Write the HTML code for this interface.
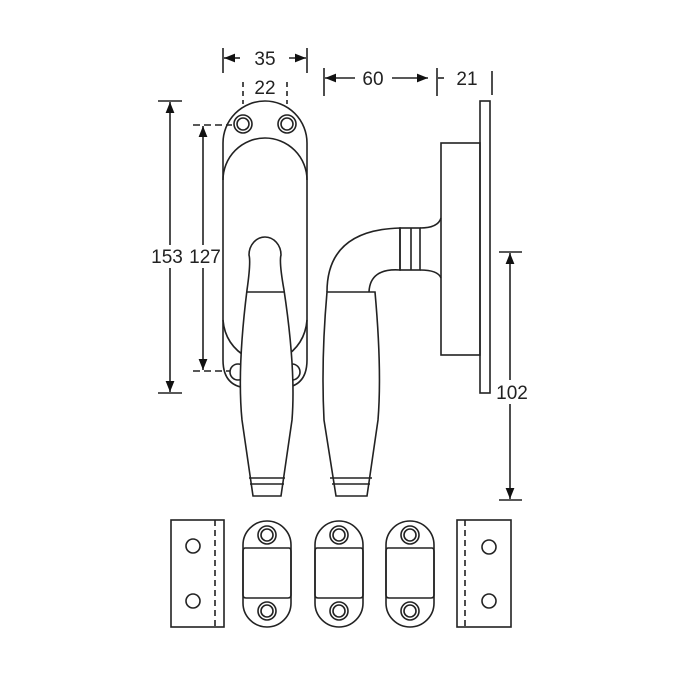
<!DOCTYPE html>
<html><head><style>body{margin:0;background:#fff}svg{display:block}</style></head><body>
<svg width="700" height="700" viewBox="0 0 700 700" xmlns="http://www.w3.org/2000/svg" font-family="Liberation Sans, sans-serif">
<defs><marker id="a" viewBox="0 0 10 10" refX="10" refY="5" markerWidth="7" markerHeight="7" orient="auto-start-reverse"><path d="M0,1 L10,5 L0,9 z" fill="#111"/></marker></defs>
<g fill="none" stroke="#222" stroke-width="1.6">
<line x1="223" y1="48" x2="223" y2="73"/><line x1="307" y1="48" x2="307" y2="73"/>
<line x1="240" y1="58" x2="224" y2="58" marker-end="url(#a)"/><line x1="289" y1="58" x2="306" y2="58" marker-end="url(#a)"/>
<line x1="243" y1="82" x2="243" y2="104" stroke-dasharray="5,4"/><line x1="287" y1="82" x2="287" y2="104" stroke-dasharray="5,4"/>
<line x1="324" y1="68" x2="324" y2="96"/><line x1="437" y1="68" x2="437" y2="96"/><line x1="492" y1="71" x2="492" y2="95"/>
<line x1="355" y1="78" x2="325" y2="78" marker-end="url(#a)"/><line x1="392" y1="78" x2="428" y2="78" marker-end="url(#a)"/><line x1="444" y1="78" x2="438" y2="78"/>
<line x1="158" y1="101" x2="182" y2="101"/><line x1="158" y1="393" x2="182" y2="393"/>
<line x1="170" y1="245" x2="170" y2="102" marker-end="url(#a)"/><line x1="170" y1="268" x2="170" y2="392" marker-end="url(#a)"/>
<line x1="193" y1="125" x2="232" y2="125" stroke-dasharray="7,4"/><line x1="193" y1="371" x2="230" y2="371" stroke-dasharray="7,4"/>
<line x1="203" y1="245" x2="203" y2="126" marker-end="url(#a)"/><line x1="203" y1="268" x2="203" y2="370" marker-end="url(#a)"/>
<line x1="499" y1="252" x2="522" y2="252"/><line x1="499" y1="500" x2="522" y2="500"/>
<line x1="510" y1="380" x2="510" y2="253" marker-end="url(#a)"/><line x1="510" y1="404" x2="510" y2="499" marker-end="url(#a)"/>
<!-- left plate -->
<path d="M223,143 A42,42 0 0 1 307,143 L307,360 Q307,388 280,388 L250,388 Q223,388 223,360 Z"/>
<path d="M223,180 A42,42 0 0 1 307,180"/>
<path d="M223,320 Q225,345 248,358"/><path d="M307,320 Q305,345 283,358"/>
<circle cx="243" cy="124" r="9"/><circle cx="243" cy="124" r="6"/><circle cx="287" cy="124" r="9"/><circle cx="287" cy="124" r="6"/>
<circle cx="238" cy="372" r="8"/><circle cx="292" cy="372" r="8"/>
<!-- front handle -->
<path d="M249,255 A16,18 0 1 1 281,255 Q279,262 284,290 Q296,370 292,420 L281,496 L253,496 L242,420 Q237,370 247,290 Q251,262 249,255 Z" fill="#fff"/>
<line x1="247" y1="292" x2="284" y2="292"/><line x1="249" y1="478" x2="285" y2="478"/><line x1="250" y1="484" x2="284" y2="484"/>
<!-- side handle -->
<path d="M327,292 Q327,230 400,228 L400,270 Q370,268 369,292"/>
<path d="M327,292 L375,292 Q382,370 378,420 L367,496 L336,496 L324,420 Q321,360 327,292 Z" fill="#fff"/>
<line x1="330" y1="478" x2="372" y2="478"/><line x1="332" y1="484" x2="370" y2="484"/>
<rect x="400" y="228" width="20" height="42"/><line x1="411" y1="228" x2="411" y2="270"/>
<path d="M420,228 Q438,228 441,218"/><path d="M420,270 Q438,270 441,278"/>
<rect x="441" y="143" width="39" height="212"/><rect x="480" y="101" width="10" height="292"/>
<!-- bottom parts -->
<rect x="171" y="520" width="53" height="107"/><line x1="215" y1="520" x2="215" y2="627" stroke-dasharray="6,4"/>
<circle cx="193" cy="546" r="7"/><circle cx="193" cy="601" r="7"/>
<rect x="457" y="520" width="54" height="107"/><line x1="465" y1="520" x2="465" y2="627" stroke-dasharray="6,4"/>
<circle cx="489" cy="547" r="7"/><circle cx="489" cy="601" r="7"/>
</g>
<g fill="none" stroke="#222" stroke-width="1.6">
<g id="p"><path d="M243,545 A24,24 0 0 1 291,545 L291,603 A24,24 0 0 1 243,603 Z"/><path d="M245,548 L289,548 Q291,548 291,552 L291,595 Q291,598 288,598 L246,598 Q243,598 243,595 L243,552 Q243,548 245,548"/><circle cx="267" cy="535" r="9"/><circle cx="267" cy="535" r="6"/><circle cx="267" cy="611" r="9"/><circle cx="267" cy="611" r="6"/></g>
<use href="#p" x="72"/><use href="#p" x="143"/>
</g>
<g font-size="19" fill="#222" text-anchor="middle">
<text x="265" y="65">35</text><text x="265" y="94">22</text><text x="373" y="85">60</text><text x="467" y="85">21</text>
<text x="167" y="263">153</text><text x="205" y="263">127</text><text x="512" y="399">102</text>
</g>
</svg>
</body></html>
